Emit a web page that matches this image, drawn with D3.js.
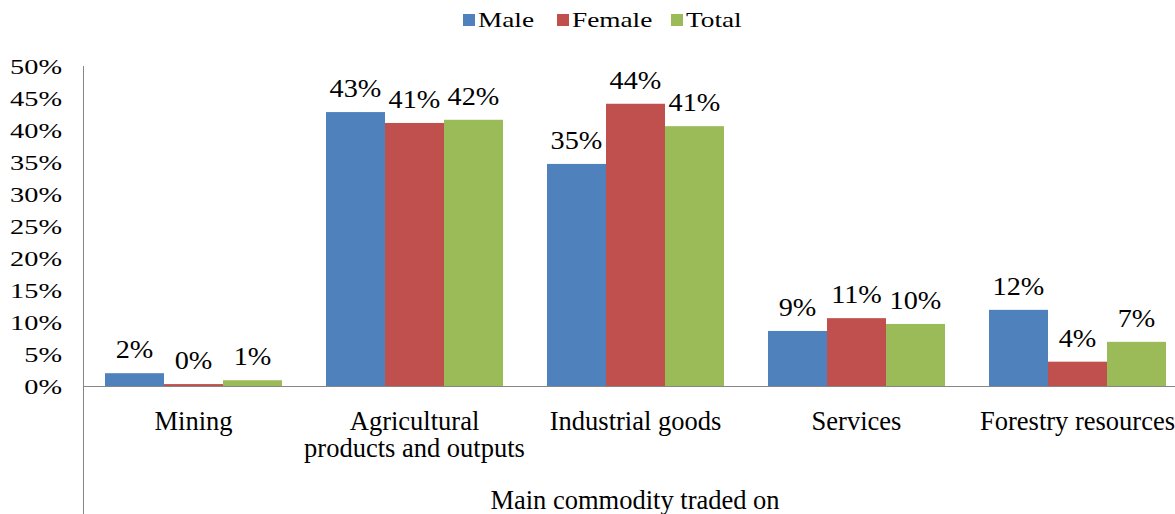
<!DOCTYPE html>
<style>
  body { margin: 0; background: #fff; }
</style>
<body></body>
<script src="https://cdn.jsdelivr.net/npm/d3@7/dist/d3.min.js"></script>
<script>
  const width = 1175
  const height = 514

  const categories = ["Mining", "Agricultural products and outputs", "Industrial goods", "Services", "Forestry resources"]
  const categoryLines = [["Mining"], ["Agricultural", "products and outputs"], ["Industrial goods"], ["Services"], ["Forestry resources"]]
  const seriesNames = ["Male", "Female", "Total"]
  const colors = ["#4F81BD", "#C0504D", "#9BBB59"]

  const male = [2.0, 42.8, 34.7, 8.6, 11.9]
  const female = [0.3, 41.1, 44.1, 10.6, 3.8]
  const total = [0.9, 41.6, 40.6, 9.7, 6.9]
  const yTicks = [0, 5, 10, 15, 20, 25, 30, 35, 40, 45, 50]

  const seriesValues = [male, female, total]

  const margin = { left: 83, top: 66, bottom: 386 }

  const svg = d3.select("body").append("svg")
    .attr("width", width)
    .attr("height", height)

  const y = d3.scaleLinear()
    .domain([0, 50])
    .range([margin.bottom, margin.top])

  // band per category, plot runs past the right edge like the original
  const x0 = d3.scaleBand()
    .domain(categories)
    .range([margin.left, margin.left + 5 * 221])

  const x1 = d3.scaleBand()
    .domain(seriesNames)
    .range([22, 199])

  const color = d3.scaleOrdinal().domain(seriesNames).range(colors)

  // y tick labels (wide looking text in the original)
  svg.append("g").selectAll("text")
    .data(yTicks)
    .enter().append("text")
    .attr("transform", d => `translate(62,${y(d) + 7.5}) scale(1.35,1)`)
    .attr("text-anchor", "end")
    .attr("font-size", 21)
    .text(d => d + "%")

  // bars
  const groups = svg.append("g").selectAll("g")
    .data(categories)
    .enter().append("g")
    .attr("transform", d => `translate(${x0(d)},0)`)

  groups.selectAll("rect")
    .data((d, i) => seriesNames.map((s, j) => ({ s, v: seriesValues[j][i] })))
    .enter().append("rect")
    .attr("x", d => x1(d.s))
    .attr("width", x1.bandwidth())
    .attr("y", d => y(d.v))
    .attr("height", d => y(0) - y(d.v))
    .attr("fill", d => color(d.s))

  groups.selectAll("text.lbl")
    .data((d, i) => seriesNames.map((s, j) => ({ s, v: seriesValues[j][i] })))
    .enter().append("text")
    .classed("lbl", true)
    .attr("transform", d => `translate(${x1(d.s) + x1.bandwidth() / 2},${y(d.v) - 15}) scale(1.13,1)`)
    .attr("text-anchor", "middle")
    .attr("font-size", 25)
    .text(d => Math.round(d.v) + "%")

  // axes lines
  svg.append("line")
    .attr("x1", margin.left + 0.5).attr("x2", margin.left + 0.5)
    .attr("y1", margin.top).attr("y2", height)
    .attr("stroke", "#868686").attr("stroke-width", 1)

  svg.append("line")
    .attr("x1", margin.left).attr("x2", width)
    .attr("y1", y(0) + 0.5).attr("y2", y(0) + 0.5)
    .attr("stroke", "#868686").attr("stroke-width", 1)

  // category labels
  svg.append("g").selectAll("text")
    .data(categories)
    .enter().append("text")
    .attr("text-anchor", "middle")
    .attr("font-size", 26.5)
    .attr("transform", d => `translate(${x0(d) + x0.bandwidth() / 2},0)`)
    .each(function(d, i) {
      d3.select(this).selectAll("tspan")
        .data(categoryLines[i])
        .enter().append("tspan")
        .attr("x", 0)
        .attr("y", (t, k) => 430 + k * 27)
        .text(t => t)
    })

  svg.append("text")
    .attr("text-anchor", "middle")
    .attr("font-size", 26.5)
    .attr("x", 635)
    .attr("y", 509)
    .text("Main commodity traded on")

  // legend
  const legendX = [463, 557, 671]
  const legend = svg.append("g").selectAll("g")
    .data(seriesNames)
    .enter().append("g")
    .attr("transform", (d, i) => `translate(${legendX[i]},14)`)

  legend.append("rect")
    .attr("width", 12).attr("height", 12)
    .attr("fill", d => color(d))

  legend.append("text")
    .attr("transform", "translate(15,13) scale(1.3,1)")
    .attr("font-size", 21)
    .text(d => d)

  // serif everywhere, set inline on each text
  svg.selectAll("text, tspan")
    .style("font-family", "Liberation Serif")
    .style("fill", "#000")
</script>
